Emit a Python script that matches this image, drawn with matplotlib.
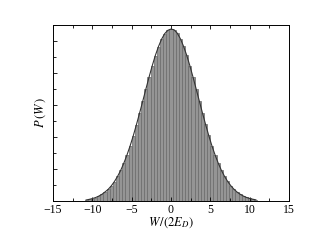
import numpy as np
import matplotlib
matplotlib.use("Agg")
import matplotlib.pyplot as plt
from matplotlib.ticker import MultipleLocator

# histogram of work values W/(2E_D) (bin width 0.4)
bin_centers = [-10.8, -10.4, -10.0, -9.6, -9.2, -8.8, -8.4, -8.0, -7.6, -7.2,
               -6.8, -6.4, -6.0, -5.6, -5.2, -4.8, -4.4, -4.0, -3.6, -3.2,
               -2.8, -2.4, -2.0, -1.6, -1.2, -0.8, -0.4, 0.0, 0.4, 0.8,
               1.2, 1.6, 2.0, 2.4, 2.8, 3.2, 3.6, 4.0, 4.4, 4.8,
               5.2, 5.6, 6.0, 6.4, 6.8, 7.2, 7.6, 8.0, 8.4, 8.8,
               9.2, 9.6, 10.0, 10.4, 10.8]
p_w = [0.0006, 0.0010, 0.0015, 0.0021, 0.0030, 0.0041, 0.0056, 0.0072, 0.0094, 0.0121,
       0.0153, 0.0191, 0.0236, 0.0287, 0.0344, 0.0407, 0.0476, 0.0548, 0.0622, 0.0698,
       0.0772, 0.0843, 0.0908, 0.0964, 0.1011, 0.1046, 0.1067, 0.1075, 0.1070, 0.1049,
       0.1014, 0.0967, 0.0911, 0.0846, 0.0775, 0.0701, 0.0626, 0.0551, 0.0479, 0.0410,
       0.0346, 0.0289, 0.0238, 0.0193, 0.0155, 0.0123, 0.0096, 0.0074, 0.0056, 0.0042,
       0.0031, 0.0022, 0.0016, 0.0011, 0.0007]
bin_width = 0.4
xticks = [-15, -10, -5, 0, 5, 10, 15]
xtick_labels = ['\u221215', '\u221210', '\u22125', '0', '5', '10', '15']

plt.rcParams['font.family'] = ['Liberation Serif', 'DejaVu Serif']
plt.rcParams['mathtext.fontset'] = 'stix'

fig = plt.figure(figsize=(3.14, 2.43), dpi=100)
ax = fig.add_axes([0.169, 0.173, 0.751, 0.724])

ax.bar(bin_centers, p_w, width=bin_width, color='#959595',
       edgecolor='#6a6a6a', linewidth=0.5)
ax.plot(bin_centers, p_w, color='#333333', lw=0.8)

ax.set_xlim(-15, 15)
ax.set_ylim(0, 0.11)
ax.set_xticks(xticks)
ax.set_xticklabels(xtick_labels)
ax.xaxis.set_minor_locator(MultipleLocator(2.5))
ax.yaxis.set_major_locator(MultipleLocator(0.02))
ax.yaxis.set_minor_locator(MultipleLocator(0.01))
ax.tick_params(which='both', direction='in', top=True, right=False,
               labelleft=False, labelsize=8.5, pad=2)
ax.tick_params(which='major', length=3, width=0.6)
ax.tick_params(which='minor', length=2, width=0.6)
for s in ax.spines.values():
    s.set_linewidth(0.7)

ax.set_xlabel(r'$W\,/(2E_D)$', fontsize=9, labelpad=0)
ax.set_ylabel(r'$P\,(W\,)$', fontsize=9, labelpad=4)

fig.savefig('out.png', dpi=100)
